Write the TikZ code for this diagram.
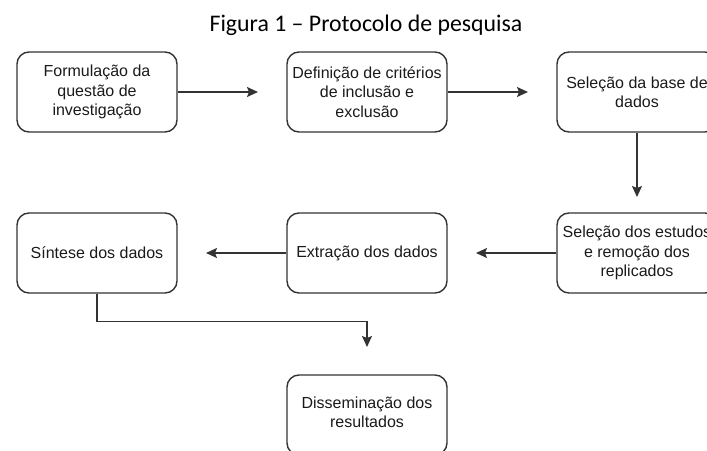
\documentclass[tikz,border=0pt]{standalone}
\usepackage{fontspec}
\setmainfont{Liberation Sans}
\newfontfamily\titlefont{Carlito}
\usetikzlibrary{arrows.meta}
\definecolor{edgecol}{HTML}{333333}
\definecolor{txtcol}{HTML}{1A1A1A}
\begin{document}
\begin{tikzpicture}[x=1pt,y=-1pt,
  box/.style={draw=edgecol, line width=1.4pt, rounded corners=12pt,
    minimum width=160pt, minimum height=80pt, inner sep=0pt, align=center,
    font=\fontsize{16}{19.2}\selectfont, text=txtcol},
  arr/.style={draw=edgecol, line width=1.4pt,
    -{Stealth[length=11pt,width=10pt,inset=2pt]}}]
\useasboundingbox (0,0) rectangle (707,450);
\clip (0,0) rectangle (707,450);
\node[font=\titlefont\fontsize{23.8}{28}\selectfont, anchor=base, text=black] (title) at (366,31) {Figura 1 – Protocolo de pesquisa};
\node[box] (b1) at (97,92) {Formulação da\\questão de\\investigação};
\node[box] (b2) at (367,92) {Definição de critérios\\de inclusão e\\exclusão};
\node[box] (b3) at (637,92) {Seleção da base de\\dados};
\node[box] (b6) at (637,253) {Seleção dos estudos\\e remoção dos\\replicados};
\node[box] (b5) at (367,253) {Extração dos dados};
\node[box] (b4) at (97,253) {Síntese dos dados};
\node[box] (b7) at (367,415) {};
\node[align=center, inner sep=0pt, font=\fontsize{16}{19.2}\selectfont, text=txtcol] (b7t) at (367,412.5) {Disseminação dos\\resultados};
\coordinate (t1) at (258,92);
\coordinate (t2) at (528,92);
\coordinate (t3) at (637,197);
\coordinate (t4) at (476,253);
\coordinate (t5) at (206,253);
\coordinate (t6) at (367,347);
\draw[arr] (b1.east) -- (t1);
\draw[arr] (b2.east) -- (t2);
\draw[arr] (b3.south) -- (t3);
\draw[arr] (b6.west) -- (t4);
\draw[arr] (b5.west) -- (t5);
\draw[arr] (b4.south) -- ++(0,28) -| (t6);
\end{tikzpicture}
\end{document}
